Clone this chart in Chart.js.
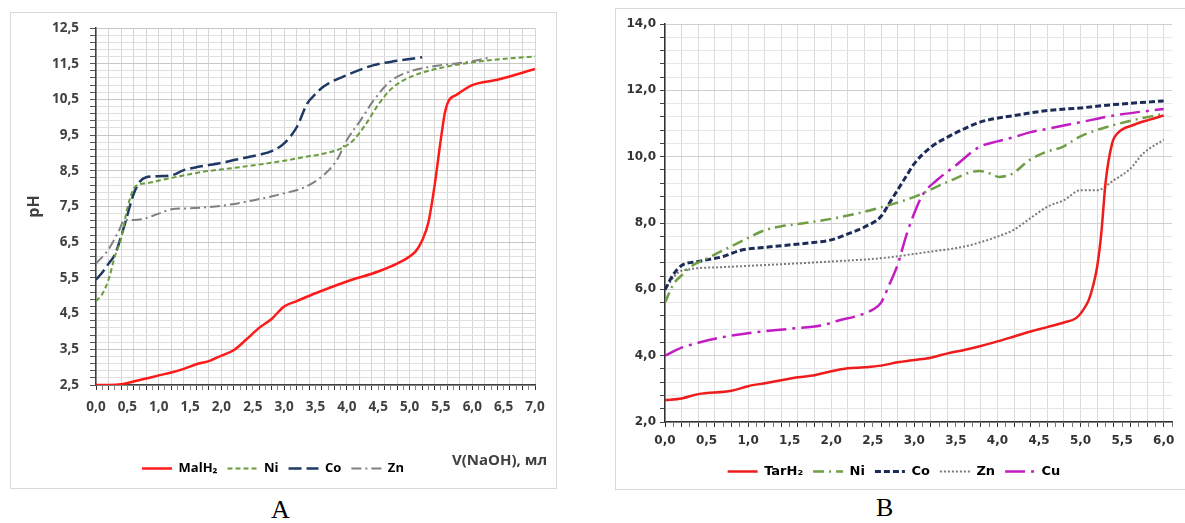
<!DOCTYPE html>
<html>
<head>
<meta charset="utf-8">
<script src="https://cdn.jsdelivr.net/npm/chart.js@4.4.1/dist/chart.umd.min.js"></script>
<style>
  body { margin: 0; background: #fff; width: 1185px; height: 523px; position: relative; overflow: hidden; }
  .frame { position: absolute; border: 1px solid #d9d9d9; box-sizing: border-box; }
  #boxA { left: 10px; top: 12px; width: 547px; height: 477px; }
  #boxB { left: 615px; top: 8px; width: 575px; height: 482px; }
  .cap { position: absolute; font-family: "Liberation Serif", serif; font-size: 26px; color: #000; }
  #axisTitleA { position: absolute; left: 452px; top: 449px; font-family: "Open Sans", sans-serif; font-weight: bold; font-size: 15px; color: #404040; }
</style>
</head>
<body>
<div class="frame" id="boxA"><canvas id="chartA"></canvas></div>
<div class="frame" id="boxB"><canvas id="chartB"></canvas></div>
<div id="axisTitleA">V(NaOH), мл</div>
<div class="cap" style="left:271px; top:495px;">A</div>
<div class="cap" style="left:876px; top:493px;">B</div>
<script>
'use strict';
// chart A - malonic acid titration
var malX = [0, 0.2, 0.4, 0.6, 0.8, 1.0, 1.2, 1.4, 1.6, 1.8, 2.0, 2.2, 2.4, 2.6, 2.8, 3.0, 3.2, 3.5, 4.0, 4.5, 4.8, 5.0, 5.1, 5.2, 5.3, 5.4, 5.5, 5.56, 5.62, 5.75, 6.0, 6.4, 7.0];
var malY = [2.5, 2.5, 2.52, 2.6, 2.68, 2.77, 2.85, 2.95, 3.08, 3.17, 3.32, 3.48, 3.78, 4.1, 4.35, 4.7, 4.85, 5.07, 5.4, 5.68, 5.9, 6.1, 6.25, 6.55, 7.05, 8.1, 9.4, 10.1, 10.45, 10.63, 10.9, 11.05, 11.35];
var niAX = [0, 0.1, 0.2, 0.3, 0.4, 0.5, 0.6, 0.7, 0.8, 1.2, 1.7, 2.2, 2.7, 3.0, 3.3, 3.6, 3.9, 4.1, 4.3, 4.5, 4.7, 4.9, 5.2, 5.6, 6.1, 6.6, 7.0];
var niAY = [4.85, 5.05, 5.45, 6.1, 6.6, 7.45, 8.0, 8.12, 8.15, 8.3, 8.47, 8.58, 8.7, 8.78, 8.88, 8.97, 9.12, 9.35, 9.8, 10.35, 10.78, 11.03, 11.25, 11.42, 11.56, 11.65, 11.7];
var coAX = [0, 0.1, 0.2, 0.3, 0.45, 0.6, 0.7, 0.8, 1.0, 1.2, 1.4, 1.6, 2.0, 2.2, 2.6, 2.8, 3.0, 3.2, 3.37, 3.5, 3.63, 4.0, 4.43, 4.8, 5.2];
var coAY = [5.45, 5.65, 5.9, 6.15, 6.95, 7.85, 8.2, 8.32, 8.35, 8.37, 8.52, 8.6, 8.72, 8.8, 8.95, 9.05, 9.27, 9.72, 10.39, 10.65, 10.86, 11.18, 11.46, 11.58, 11.68];
var znAX = [0, 0.2, 0.37, 0.45, 0.6, 0.75, 1.0, 1.2, 1.5, 2.0, 2.5, 3.0, 3.3, 3.63, 3.84, 4.0, 4.22, 4.43, 4.69, 5.0, 5.43, 5.86, 6.3];
var znAY = [5.9, 6.3, 6.84, 7.12, 7.12, 7.15, 7.3, 7.42, 7.45, 7.52, 7.67, 7.87, 8.02, 8.38, 8.8, 9.36, 9.92, 10.48, 11.0, 11.28, 11.44, 11.53, 11.68];
var namesA = ['MalH\u2082', 'Ni', 'Co', 'Zn'];

// chart B - tartaric acid titration
var tarX = [0, 0.2, 0.4, 0.8, 1.0, 1.2, 1.4, 1.6, 1.8, 2.0, 2.2, 2.4, 2.6, 2.8, 3.0, 3.2, 3.4, 3.6, 3.8, 4.0, 4.2, 4.4, 4.6, 4.8, 4.95, 5.05, 5.1, 5.15, 5.2, 5.25, 5.3, 5.38, 5.46, 5.62, 5.82, 6.0];
var tarY = [2.66, 2.71, 2.84, 2.94, 3.08, 3.17, 3.26, 3.35, 3.41, 3.53, 3.62, 3.65, 3.7, 3.8, 3.87, 3.94, 4.07, 4.17, 4.29, 4.43, 4.58, 4.73, 4.86, 5.0, 5.14, 5.45, 5.69, 6.1, 6.69, 7.7, 9.2, 10.4, 10.74, 10.94, 11.11, 11.24];
var niBX = [0, 0.1, 0.2, 0.3, 0.47, 0.63, 0.8, 1.0, 1.2, 1.4, 1.6, 1.9, 2.3, 2.6, 3.0, 3.4, 3.78, 3.9, 4.02, 4.18, 4.38, 4.58, 4.78, 4.98, 5.18, 5.38, 5.7, 6.0];
var niBY = [5.6, 6.15, 6.42, 6.67, 6.89, 7.09, 7.3, 7.55, 7.78, 7.9, 7.97, 8.08, 8.28, 8.47, 8.79, 9.24, 9.57, 9.5, 9.39, 9.49, 9.89, 10.14, 10.29, 10.59, 10.79, 10.94, 11.14, 11.29];
var coBX = [0, 0.1, 0.2, 0.4, 0.7, 0.9, 1.3, 1.7, 2.0, 2.2, 2.4, 2.6, 2.7, 2.8, 2.9, 3.0, 3.2, 3.4, 3.6, 3.8, 4.2, 4.6, 5.0, 5.4, 6.0];
var coBY = [5.99, 6.45, 6.72, 6.84, 6.99, 7.17, 7.29, 7.39, 7.49, 7.67, 7.88, 8.2, 8.6, 9.0, 9.4, 9.79, 10.29, 10.59, 10.84, 11.05, 11.24, 11.39, 11.47, 11.57, 11.68];
var znBX = [0, 0.15, 0.31, 0.7, 1.5, 2.0, 2.6, 3.2, 3.6, 4.0, 4.2, 4.4, 4.6, 4.8, 5.0, 5.2, 5.4, 5.6, 5.75, 6.0];
var znBY = [6.0, 6.49, 6.61, 6.67, 6.77, 6.84, 6.94, 7.14, 7.29, 7.59, 7.8, 8.15, 8.49, 8.69, 8.99, 8.99, 9.29, 9.64, 10.09, 10.51];
var cuX = [0, 0.2, 0.4, 0.7, 1.1, 1.5, 1.9, 2.1, 2.3, 2.5, 2.6, 2.7, 2.8, 2.9, 3.0, 3.1, 3.27, 3.5, 3.78, 4.0, 4.2, 4.4, 4.6, 5.0, 5.4, 6.0];
var cuY = [4.0, 4.24, 4.39, 4.56, 4.71, 4.81, 4.92, 5.07, 5.19, 5.39, 5.6, 6.15, 6.75, 7.6, 8.3, 8.85, 9.29, 9.74, 10.29, 10.46, 10.59, 10.74, 10.84, 11.04, 11.24, 11.44];
var namesB = ['TarH\u2082', 'Ni', 'Co', 'Zn', 'Cu'];

function toPoints(xs, ys) {
  var pts = [];
  for (var i = 0; i < xs.length; i++) {
    pts.push({ x: xs[i], y: ys[i] });
  }
  return pts;
}

function makeSet(label, xs, ys, color, dash, width) {
  return {
    label: label,
    data: toPoints(xs, ys),
    borderColor: color,
    backgroundColor: color,
    borderDash: dash,
    borderWidth: width,
    pointRadius: 0,
    fill: false,
    cubicInterpolationMode: 'monotone'
  };
}

// legend samples should keep the dash of each line
function lineLabels(chart) {
  return chart.data.datasets.map(function (ds, i) {
    return {
      text: ds.label,
      strokeStyle: ds.borderColor,
      fillStyle: ds.borderColor,
      lineWidth: ds.borderWidth,
      lineDash: ds.borderDash,
      pointStyle: 'line',
      hidden: false,
      datasetIndex: i
    };
  });
}

function comma(v) {
  return v.toFixed(1).replace('.', ',');
}

// steps counted in tenths so float noise does not matter
function tenths(v, base) {
  return Math.round((v - base) * 10);
}

// fixed width for the y axis, and let the layout padding decide the top
function fixY(width) {
  return function (s) {
    s.width = width;
    s.paddingTop = 0;
    s.paddingBottom = 0;
  };
}

var fontA = 'Open Sans';
var fontB = 'DejaVu Sans';

var chartA = new Chart(document.getElementById('chartA'), {
  type: 'line',
  data: {
    datasets: [
      makeSet(namesA[0], malX, malY, '#ff1a1a', [], 2.5),
      makeSet(namesA[1], niAX, niAY, '#6a9b3c', [5, 3], 2),
      makeSet(namesA[2], coAX, coAY, '#1f3864', [13, 5], 2.5),
      makeSet(namesA[3], znAX, znAY, '#808080', [10, 4, 2, 4], 2)
    ]
  },
  options: {
    responsive: true,
    maintainAspectRatio: false,
    animation: false,
    layout: { padding: { left: 0, right: 21, top: 15, bottom: 3 } },
    plugins: {
      tooltip: { enabled: false },
      legend: {
        position: 'bottom',
        labels: {
          usePointStyle: true,
          pointStyle: 'line',
          pointStyleWidth: 30,
          padding: 10,
          color: '#404040',
          font: { family: fontA, size: 13, weight: 'bold' },
          generateLabels: lineLabels
        }
      }
    },
    scales: {
      x: {
        type: 'linear',
        min: 0,
        max: 7,
        afterFit: function (s) { s.height = 67; },
        border: { color: '#404040', width: 1.5 },
        grid: {
          color: function (c) { return tenths(c.tick.value, 0) % 2 === 0 ? '#d6d6d6' : 'rgba(0,0,0,0)'; },
          tickColor: function (c) { return tenths(c.tick.value, 0) % 2 === 0 ? '#333' : '#888'; },
          tickLength: 5
        },
        ticks: {
          stepSize: 0.1,
          autoSkip: false,
          maxRotation: 0,
          padding: 9,
          color: '#404040',
          font: { family: fontA, size: 13.5, weight: 'bold' },
          callback: function (v) { return tenths(v, 0) % 5 === 0 ? comma(v) : ''; }
        }
      },
      y: {
        min: 2.5,
        max: 12.5,
        afterFit: fixY(85),
        border: { color: '#404040', width: 1.5 },
        title: {
          display: true,
          text: 'pH',
          color: '#404040',
          padding: { top: 14, bottom: 0 },
          font: { family: fontA, size: 16, weight: 'bold' }
        },
        grid: {
          color: function (c) { return tenths(c.tick.value, 2.5) % 10 === 0 ? '#c8c8c8' : '#e0e0e0'; },
          tickColor: '#555',
          tickLength: 6
        },
        ticks: {
          stepSize: 0.2,
          autoSkip: false,
          padding: 11,
          color: '#404040',
          font: { family: fontA, size: 13.5, weight: 'bold' },
          callback: function (v) { return tenths(v, 2.5) % 10 === 0 ? comma(v) : ''; }
        }
      }
    }
  }
});

var chartB = new Chart(document.getElementById('chartB'), {
  type: 'line',
  data: {
    datasets: [
      makeSet(namesB[0], tarX, tarY, '#ee1c1c', [], 2.5),
      makeSet(namesB[1], niBX, niBY, '#6f9e45', [11, 5, 2, 5], 2.5),
      makeSet(namesB[2], coBX, coBY, '#1c2b57', [6, 3], 3),
      makeSet(namesB[3], znBX, znBY, '#7a7a7a', [2, 2], 2),
      makeSet(namesB[4], cuX, cuY, '#c21dc2', [20, 6, 3, 6], 2.5)
    ]
  },
  options: {
    responsive: true,
    maintainAspectRatio: false,
    animation: false,
    layout: { padding: { left: 0, right: 17, top: 15, bottom: 1 } },
    plugins: {
      tooltip: { enabled: false },
      legend: {
        position: 'bottom',
        labels: {
          usePointStyle: true,
          pointStyle: 'line',
          pointStyleWidth: 30,
          padding: 10,
          color: '#333',
          font: { family: fontB, size: 13, weight: 'bold' },
          generateLabels: lineLabels
        }
      }
    },
    scales: {
      x: {
        type: 'linear',
        min: 0,
        max: 6.1,
        afterFit: function (s) { s.height = 33; },
        border: { color: '#333', width: 1.5 },
        grid: {
          color: function (c) { return tenths(c.tick.value, 0) % 2 === 0 ? '#dcdcdc' : 'rgba(0,0,0,0)'; },
          tickColor: function (c) { return tenths(c.tick.value, 0) % 2 === 0 ? '#333' : '#777'; },
          tickLength: 5
        },
        ticks: {
          stepSize: 0.1,
          autoSkip: false,
          maxRotation: 0,
          padding: 7,
          color: '#333',
          font: { family: fontB, size: 12, weight: 'bold' },
          callback: function (v) { return tenths(v, 0) % 5 === 0 && v < 6.05 ? comma(v) : ''; }
        }
      },
      y: {
        min: 2,
        max: 14,
        afterFit: fixY(49),
        border: { color: '#333', width: 1.5 },
        grid: {
          color: function (c) { return tenths(c.tick.value, 2) % 20 === 0 ? '#cfcfcf' : '#e6e6e6'; },
          tickColor: '#444',
          tickLength: 5
        },
        ticks: {
          stepSize: 0.4,
          autoSkip: false,
          padding: 4,
          color: '#333',
          font: { family: fontB, size: 12, weight: 'bold' },
          callback: function (v) { return tenths(v, 2) % 20 === 0 ? comma(v) : ''; }
        }
      }
    }
  }
});
</script>
</body>
</html>
